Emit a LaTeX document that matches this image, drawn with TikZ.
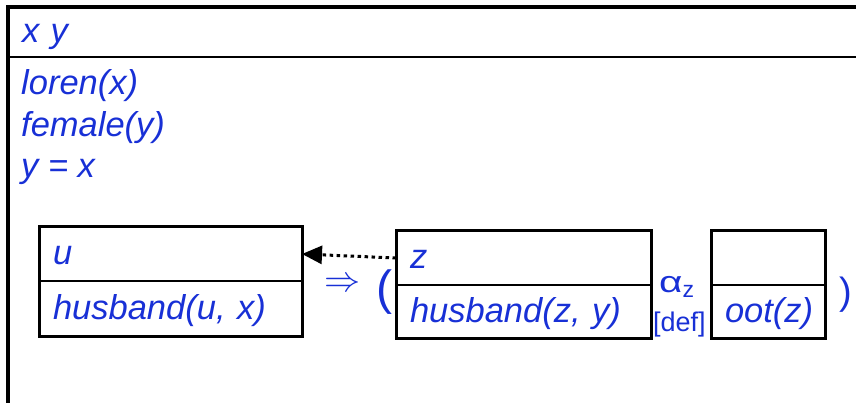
\documentclass[tikz,border=0pt]{standalone}
\usepackage{fontspec}
\setmainfont{Liberation Sans}
\usetikzlibrary{positioning,arrows.meta}
\definecolor{drsblue}{RGB}{24,48,214}
\tikzstyle{cell} = [rectangle,
                    draw=black,
                    line width=1.5pt,
                    outer sep=0pt,
                    inner xsep=14pt,
                    inner ysep=0pt,
                    text height=26pt,
                    text depth=4pt,
                    align=left,
                    text=drsblue,
                    font=\fontsize{34.5}{40}\selectfont\itshape]
\tikzstyle{frame} = [draw=black, line width=3pt]
\tikzstyle{cond} = [anchor=base west,
                    inner sep=0pt,
                    text=drsblue,
                    font=\fontsize{34.5}{40}\selectfont\itshape]
\tikzstyle{sym} = [inner sep=0pt, text=drsblue]
\tikzstyle{ref} = [draw=black,
                   line width=3pt,
                   dash pattern=on 3.5pt off 3.5pt,
                   -{Triangle[length=20pt,width=18pt]}]

\begin{document}
\begin{tikzpicture}[x=1pt, y=-1pt]
\useasboundingbox (0,0) rectangle (856,403);
\clip (0,0) rectangle (856,403);
% outer box
\node (mainhead) [cell, text width=872pt, minimum height=50pt, anchor=north west] at (8,7) {x y};
\node (mainbody) [cell, text width=872pt, minimum height=400pt, below=0pt of mainhead] {};
\draw[frame, line width=3.5pt] (mainhead.north west) rectangle (mainbody.south east);
\node (c1) [cond] at (21,95) {loren(x)};
\node (c2) [cond] at (21,137) {female(y)};
\node (c3) [cond] at (21,178) {y = x};
% antecedent
\node (uhead) [cell, text width=235pt, minimum height=54pt, anchor=north west] at (39,227) {u};
\node (ubody) [cell, text width=235pt, minimum height=55pt, below=0pt of uhead] {husband(u, x)};
\draw[frame] (uhead.north west) rectangle (ubody.south east);
% consequent
\node (zhead) [cell, text width=227pt, minimum height=54pt, anchor=north west] at (396,231) {z};
\node (zbody) [cell, text width=227pt, minimum height=53pt, below=0pt of zhead] {husband(z, y)};
\draw[frame] (zhead.north west) rectangle (zbody.south east);
\node (oothead) [cell, text width=86pt, minimum height=54pt, right=60pt of zhead] {};
\node (ootbody) [cell, text width=86pt, minimum height=53pt, below=0pt of oothead] {oot(z)};
\draw[frame] (oothead.north west) rectangle (ootbody.south east);
% operators
\node (imp) [sym, font=\fontsize{24}{24}\selectfont] at (343,285) {\scalebox{1.45}{$\Rightarrow$}};
\node (lpar) [sym, font=\fontsize{48}{48}\selectfont] at (384,292) {(};
\node (rpar) [sym, font=\fontsize{38}{38}\selectfont] at (846,295) {)};
\node (alpha) [sym, anchor=base west, font=\fontsize{30}{30}\selectfont] at (659,292) {\scalebox{1.35}[1]{α}\raisebox{-5pt}{\fontsize{23}{23}\selectfont z}};
\node (dflt) [sym, anchor=base west, font=\fontsize{27}{27}\selectfont] at (653,331) {[def]};
\draw[ref] (zhead.west) -- (uhead.east);
\end{tikzpicture}
\end{document}
